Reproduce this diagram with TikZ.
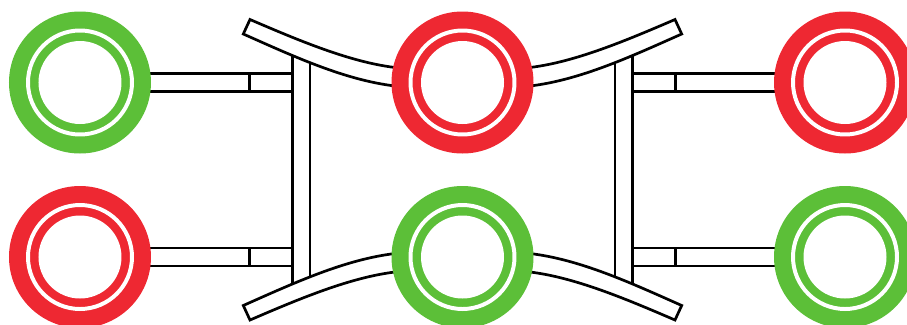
\documentclass[tikz,border=0pt]{standalone}
\usepackage{tikz}
\usetikzlibrary{positioning}
\definecolor{mygreen}{HTML}{5CBF38}
\definecolor{myred}{HTML}{EE2832}
\tikzset{
	ringnode/.pic={
			\fill[#1] (0,0) circle (71);
			\draw[white, line width=3.4pt] (0,0) circle (52);
			\fill[white] (0,0) circle (41.5);
		}
}
\tikzset{
	armquarter/.pic={
			% bar to the outer ring
			\draw (-382.5,96.25) -- (-169.8,96.25) (-382.5,78.25) -- (-169.8,78.25);
			\draw (-213,96.25) -- (-213,78.25);
			% half of the post
			\draw (-169.8,117.75) -- (-169.8,0) (-152.5,117.75) -- (-152.5,0);
			% bent strip to the middle ring
			\filldraw[fill=white]
			(-212.5,150.25) .. controls (-162.5,128.75) and (-112.5,107.75) .. (-67.5,102.25) --
			(-67.5,83.75) .. controls (-117.5,89.75) and (-167.5,112.75) .. (-219.2,135.75) --
			cycle;
		}
}
\tikzset{
	barline/.style={line width=2.3pt, line join=miter}
}

\begin{document}
\begin{tikzpicture}[x=0.03cm, y=0.03cm]

			\clip (-462.5,-154.25) rectangle (444.5,169.75);

			\begin{scope}[barline]
				\pic at (0,0) {armquarter};
				\pic[xscale=-1] at (0,0) {armquarter};
				\pic[yscale=-1] at (0,0) {armquarter};
				\pic[xscale=-1, yscale=-1] at (0,0) {armquarter};
			\end{scope}

			\begin{scope}
				\coordinate (rA) at (-382.5,87.25);
				\coordinate (rB) at (0,87.25);
				\coordinate (rC) at (382.5,87.25);
				\coordinate (rD) at (-382.5,-87.25);
				\coordinate (rE) at (0,-87.25);
				\coordinate (rF) at (382.5,-87.25);

				\pic at (rA) {ringnode={mygreen}};
				\pic at (rB) {ringnode={myred}};
				\pic at (rC) {ringnode={myred}};
				\pic at (rD) {ringnode={myred}};
				\pic at (rE) {ringnode={mygreen}};
				\pic at (rF) {ringnode={mygreen}};
			\end{scope}

		\end{tikzpicture}
\end{document}
